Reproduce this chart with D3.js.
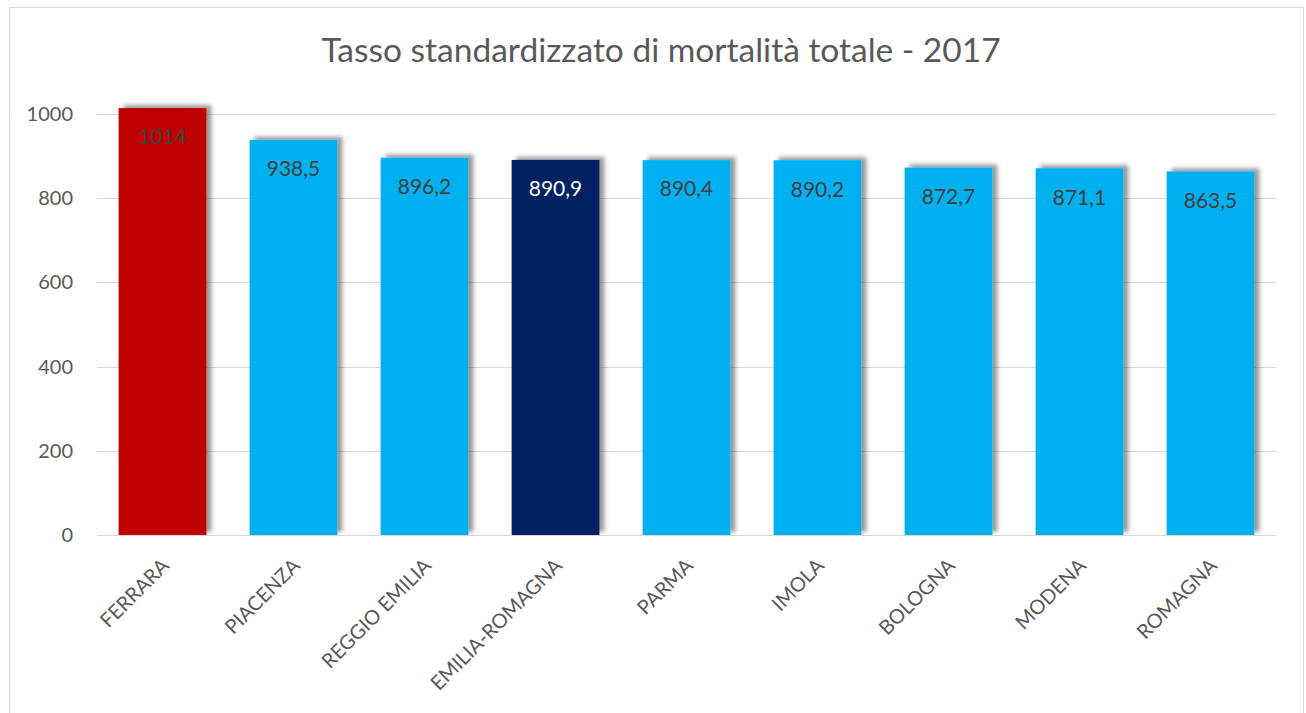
<!DOCTYPE html>
<html>
<head>
<meta charset="utf-8">
<script src="https://cdn.jsdelivr.net/npm/d3@7"></script>
<style>
  body { margin: 0; background: #fff; }
  svg { display: block; font-family: Lato, "Open Sans", sans-serif; }
</style>
</head>
<body>
<svg id="chart"></svg>
<script>
const categories = ["FERRARA", "PIACENZA", "REGGIO EMILIA", "EMILIA-ROMAGNA", "PARMA", "IMOLA", "BOLOGNA", "MODENA", "ROMAGNA"];
const values = [1014, 938.5, 896.2, 890.9, 890.4, 890.2, 872.7, 871.1, 863.5];
const barColors = ["#C00000", "#00B0F0", "#00B0F0", "#002060", "#00B0F0", "#00B0F0", "#00B0F0", "#00B0F0", "#00B0F0"];
const labelColors = ["#404040", "#404040", "#404040", "#ffffff", "#404040", "#404040", "#404040", "#404040", "#404040"];
const yTicks = [0, 200, 400, 600, 800, 1000];
const title = "Tasso standardizzato di mortalità totale - 2017";

const width = 1306;
const height = 713;
const margin = {top: 114, right: 30, bottom: 178, left: 97};

const it = d3.formatLocale({decimal: ",", thousands: "", grouping: [3], currency: ["€", ""]});
const fmt = v => Number.isInteger(v) ? String(v) : it.format(".1f")(v);

const svg = d3.select("#chart")
    .attr("width", width)
    .attr("height", height);

// shadow for the bars
const defs = svg.append("defs");
defs.append("filter")
    .attr("id", "shadow")
    .attr("x", "-20%").attr("y", "-20%")
    .attr("width", "140%").attr("height", "140%")
  .append("feDropShadow")
    .attr("dx", 5)
    .attr("dy", -3)
    .attr("stdDeviation", 2)
    .attr("flood-color", "#000")
    .attr("flood-opacity", 0.4);

// chart frame
svg.append("rect")
    .attr("x", 9.5).attr("y", 7.5)
    .attr("width", 1294).attr("height", 720)
    .attr("fill", "none")
    .attr("stroke", "#d9d9d9");

svg.append("text")
    .attr("x", 661)
    .attr("y", 62)
    .attr("text-anchor", "middle")
    .attr("fill", "#595959")
    .style("font-size", "33.5px")
    .text(title);

const x = d3.scaleBand()
    .domain(categories)
    .range([margin.left, width - margin.right])
    .paddingInner(0.33)
    .paddingOuter(0.165);

const y = d3.scaleLinear()
    .domain([0, 1000])
    .range([height - margin.bottom, margin.top]);

// grid
svg.append("g")
    .selectAll("line")
    .data(yTicks)
    .join("line")
    .attr("x1", margin.left)
    .attr("x2", width - margin.right)
    .attr("y1", d => Math.round(y(d)) + 0.5)
    .attr("y2", d => Math.round(y(d)) + 0.5)
    .attr("stroke", "#d9d9d9")
    .attr("stroke-width", 1);

// y labels
svg.append("g")
    .selectAll("text")
    .data(yTicks)
    .join("text")
    .attr("x", 73)
    .attr("y", d => y(d))
    .attr("dy", "0.35em")
    .attr("text-anchor", "end")
    .attr("fill", "#595959")
    .style("font-size", "20px")
    .text(d => d);

const data = categories.map((c, i) => ({cat: c, value: values[i], color: barColors[i], label: labelColors[i]}));

svg.append("g")
    .selectAll("rect")
    .data(data)
    .join("rect")
    .attr("x", d => x(d.cat))
    .attr("y", d => y(d.value))
    .attr("width", x.bandwidth())
    .attr("height", d => y(0) - y(d.value))
    .attr("fill", d => d.color)
    .attr("filter", "url(#shadow)");

// value labels
svg.append("g")
    .selectAll("text")
    .data(data)
    .join("text")
    .attr("x", d => x(d.cat) + x.bandwidth() / 2)
    .attr("y", d => y(d.value) + 29)
    .attr("dy", "0.35em")
    .attr("text-anchor", "middle")
    .attr("fill", d => d.label)
    .style("font-size", "21px")
    .text(d => fmt(d.value));

// category labels
svg.append("g")
    .selectAll("text")
    .data(categories)
    .join("text")
    .attr("transform", d => `translate(${x(d) + x.bandwidth() / 2 + 3},${y(0) + 27}) rotate(-45)`)
    .attr("text-anchor", "end")
    .attr("dy", "0.35em")
    .attr("fill", "#595959")
    .style("font-size", "20px")
    .text(d => d);
</script>
</body>
</html>
